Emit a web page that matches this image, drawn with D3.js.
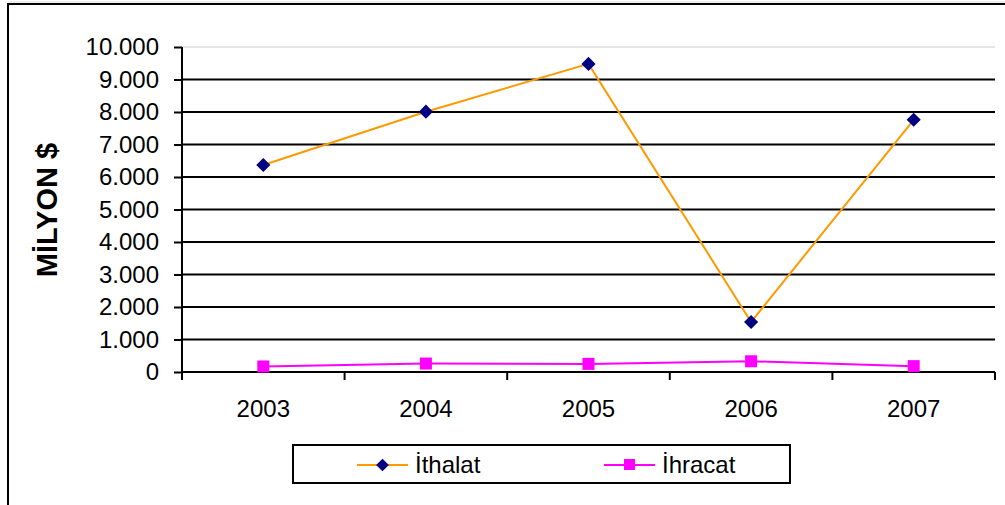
<!DOCTYPE html>
<html>
<head>
<meta charset="utf-8">
<script src="https://cdn.jsdelivr.net/npm/d3@7"></script>
<style>
  body { margin: 0; background: #fff; }
  text { font-family: Arial, "Liberation Sans", sans-serif; }
</style>
</head>
<body>
<div id="chart"></div>
<script>
// chart data
const years = ["2003", "2004", "2005", "2006", "2007"];
const ithalat = [6370, 8010, 9480, 1540, 7760];
const ihracat = [170, 260, 250, 330, 180];
const yTicks = [0, 1000, 2000, 3000, 4000, 5000, 6000, 7000, 8000, 9000, 10000];
const seriesNames = ["İthalat", "İhracat"];

const width = 1005, height = 505;
const plot = { left: 182, right: 995, top: 47, bottom: 372 };

const svg = d3.select("#chart").append("svg")
  .attr("width", width)
  .attr("height", height);

// outer chart border (runs off the right/bottom of the picture)
svg.append("line")
  .attr("x1", 8).attr("x2", 1005).attr("y1", 2).attr("y2", 2)
  .attr("stroke", "#ddd").attr("stroke-width", 1);
svg.append("rect")
  .attr("x", 8).attr("y", 4)
  .attr("width", 1020).attr("height", 520)
  .attr("fill", "none")
  .attr("stroke", "#000")
  .attr("stroke-width", 2);

//scales
const x = d3.scaleBand()
  .domain(years)
  .range([plot.left, plot.right]);

const y = d3.scaleLinear()
  .domain([0, 10000])
  .range([plot.bottom, plot.top]);

const fmt = d => d3.format(",")(d).replace(/,/g, ".");

// gridlines
svg.append("g")
  .selectAll("line")
  .data(yTicks.filter(d => d > 0))
  .enter().append("line")
    .attr("x1", plot.left).attr("x2", plot.right)
    .attr("y1", d => y(d)).attr("y2", d => y(d))
    .attr("stroke", d => d === 10000 ? "#e6e6e6" : "#000")
    .attr("stroke-width", 2);

// y axis
const yAxis = svg.append("g")
  .attr("transform", `translate(${plot.left},0)`)
  .call(d3.axisLeft(y).tickValues(yTicks).tickFormat(fmt).tickSize(8).tickPadding(15));
yAxis.select(".domain").attr("stroke-width", 2).attr("d", `M-0,${plot.top}V${plot.bottom}`);
yAxis.selectAll(".tick line").attr("stroke-width", 2);
yAxis.selectAll("text").attr("font-size", 24).attr("fill", "#000");

// x axis, ticks between categories
const xAxis = svg.append("g")
  .attr("transform", `translate(0,${plot.bottom})`);
xAxis.append("line")
  .attr("x1", plot.left).attr("x2", plot.right)
  .attr("stroke", "#000").attr("stroke-width", 2);
xAxis.selectAll(".xt")
  .data(years.map(d => x(d)).concat([plot.right]))
  .enter().append("line")
    .attr("class", "xt")
    .attr("x1", d => d).attr("x2", d => d)
    .attr("y1", 0).attr("y2", 8)
    .attr("stroke", "#000").attr("stroke-width", 2);
xAxis.selectAll("text")
  .data(years)
  .enter().append("text")
    .attr("x", d => x(d) + x.bandwidth() / 2)
    .attr("y", 45)
    .attr("text-anchor", "middle")
    .attr("font-size", 24)
    .text(d => d);

// y axis title
svg.append("text")
  .attr("transform", "translate(57,210) rotate(-90)")
  .attr("text-anchor", "middle")
  .attr("font-size", 29)
  .attr("font-weight", "bold")
  .text("MİLYON $");

const cx = d => x(d) + x.bandwidth() / 2;
const line = d3.line()
  .x((d, i) => cx(years[i]))
  .y(d => y(d));

// İthalat
svg.append("path")
  .datum(ithalat)
  .attr("d", line)
  .attr("fill", "none")
  .attr("stroke", "#FF9900")
  .attr("stroke-width", 2);
svg.selectAll(".ith")
  .data(ithalat)
  .enter().append("rect")
    .attr("class", "ith")
    .attr("width", 10).attr("height", 10)
    .attr("x", -5).attr("y", -5)
    .attr("transform", (d, i) => `translate(${cx(years[i])},${y(d)}) rotate(45)`)
    .attr("fill", "#000080");

// İhracat
svg.append("path")
  .datum(ihracat)
  .attr("d", line)
  .attr("fill", "none")
  .attr("stroke", "#FF00FF")
  .attr("stroke-width", 2);
svg.selectAll(".ihr")
  .data(ihracat)
  .enter().append("rect")
    .attr("class", "ihr")
    .attr("x", (d, i) => cx(years[i]) - 6)
    .attr("y", d => y(d) - 6)
    .attr("width", 12).attr("height", 12)
    .attr("fill", "#FF00FF");

// legend
const legend = svg.append("g");
legend.append("rect")
  .attr("x", 293).attr("y", 445)
  .attr("width", 497).attr("height", 38)
  .attr("fill", "#fff")
  .attr("stroke", "#000")
  .attr("stroke-width", 2);

const legendItems = [
  { name: seriesNames[0], x: 357, color: "#FF9900", marker: "diamond", mcolor: "#000080" },
  { name: seriesNames[1], x: 604, color: "#FF00FF", marker: "square", mcolor: "#FF00FF" }
];
legendItems.forEach(it => {
  const g = legend.append("g").attr("transform", `translate(${it.x},465)`);
  g.append("line").attr("x1", 0).attr("x2", 51)
    .attr("stroke", it.color).attr("stroke-width", 2);
  if (it.marker === "diamond") {
    g.append("rect").attr("x", -4.5).attr("y", -4.5).attr("width", 9).attr("height", 9)
      .attr("transform", "translate(25.5,0) rotate(45)")
      .attr("fill", it.mcolor);
  } else {
    g.append("rect").attr("x", 20).attr("y", -6).attr("width", 11).attr("height", 11)
      .attr("fill", it.mcolor);
  }
  g.append("text").attr("x", 58).attr("y", 8)
    .attr("font-size", 24)
    .text(it.name);
});
</script>
</body>
</html>
